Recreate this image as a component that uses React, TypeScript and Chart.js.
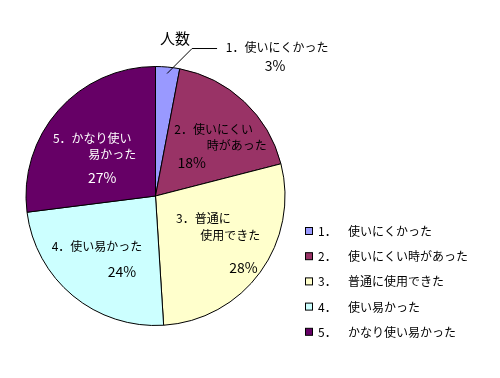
import React, { useEffect, useRef } from "react";
import { Chart, registerables } from "chart.js";

Chart.register(...registerables);

const title = "人数";
const categories = ["使いにくかった", "使いにくい時があった", "普通に使用できた", "使い易かった", "かなり使い易かった"];
const legendNums = ["1．", "2．", "3．", "4．", "5．"];
const sliceLines = [
  ["1．使いにくかった"],
  ["2．使いにくい", "時があった"],
  ["3．普通に", "使用できた"],
  ["4．使い易かった"],
  ["5．かなり使い", "易かった"],
];
const values = [3, 18, 28, 24, 27];
const colors = ["#9999FF", "#993366", "#FFFFCC", "#CCFFFF", "#660066"];
const textColors = ["#000", "#000", "#000", "#000", "#fff"];

const FONT = "'Noto Sans CJK JP', 'Noto Sans', sans-serif";

// per-slice label offsets relative to the slice anchor
const lineOffsets = [
  [[110, -26]],
  [[5, -10], [28, 6]],
  [[-15, -23], [12, -6]],
  [[-9, -9]],
  [[-5, -6], [15, 10]],
];
const pctOffsets = [[108, -8], [-17, 23], [25, 26], [16, 16], [5, 33]];

const labelPlugin = {
  id: "sliceLabels",
  afterDatasetsDraw(chart: any) {
    const ctx = chart.ctx;
    const meta = chart.getDatasetMeta(0);
    ctx.save();
    ctx.textAlign = "center";
    ctx.textBaseline = "middle";
    meta.data.forEach((arc: any, i: number) => {
      const p = arc.getProps(["x", "y", "startAngle", "endAngle", "outerRadius"], true);
      const mid = (p.startAngle + p.endAngle) / 2;
      const frac = i === 0 ? 0.95 : 0.6;
      const ax = p.x + Math.cos(mid) * p.outerRadius * frac;
      const ay = p.y + Math.sin(mid) * p.outerRadius * frac;
      if (i === 0) {
        ctx.strokeStyle = "#000";
        ctx.lineWidth = 1;
        ctx.beginPath();
        ctx.moveTo(ax, ay);
        ctx.lineTo(ax + 25, ay - 25);
        ctx.lineTo(ax + 50, ay - 25);
        ctx.stroke();
      }
      ctx.fillStyle = textColors[i];
      ctx.font = `12px ${FONT}`;
      sliceLines[i].forEach((line, j) => {
        const [dx, dy] = lineOffsets[i][j];
        ctx.fillText(line, ax + dx, ay + dy);
      });
      ctx.font = `14px ${FONT}`;
      const [px, py] = pctOffsets[i];
      ctx.fillText(`${values[i]}%`, ax + px, ay + py);
    });
    // title
    ctx.fillStyle = "#000";
    ctx.font = `15px ${FONT}`;
    ctx.fillText(title, 175, 38);
    // legend
    ctx.textAlign = "left";
    ctx.font = `12px ${FONT}`;
    const lx = 305;
    const ly0 = 231;
    const step = 25.2;
    categories.forEach((c, i) => {
      const y = ly0 + i * step;
      ctx.fillStyle = colors[i];
      ctx.fillRect(lx + 0.5, y - 3.5, 7, 7);
      ctx.strokeStyle = "#000";
      ctx.lineWidth = 1;
      ctx.strokeRect(lx + 0.5, y - 3.5, 7, 7);
      ctx.fillStyle = "#000";
      ctx.fillText(legendNums[i], lx + 13, y + 0.5);
      ctx.fillText(c, lx + 43, y + 0.5);
    });
    ctx.restore();
  },
};

export default function App() {
  const ref = useRef<HTMLCanvasElement>(null);
  useEffect(() => {
    const chart = new Chart(ref.current as HTMLCanvasElement, {
      type: "pie",
      data: {
        labels: categories,
        datasets: [
          {
            data: values,
            backgroundColor: colors,
            borderColor: "#000",
            borderWidth: 1,
          },
        ],
      },
      options: {
        responsive: false,
        animation: false,
        layout: { padding: { left: 25, right: 214, top: 66, bottom: 52 } },
        plugins: { legend: { display: false }, tooltip: { enabled: false } },
      },
      plugins: [labelPlugin],
    });
    return () => chart.destroy();
  }, []);
  return (
    <div style={{ position: "absolute", left: 0, top: 0, width: 500, height: 378, background: "#fff" }}>
      <canvas ref={ref} width={500} height={378} />
    </div>
  );
}
